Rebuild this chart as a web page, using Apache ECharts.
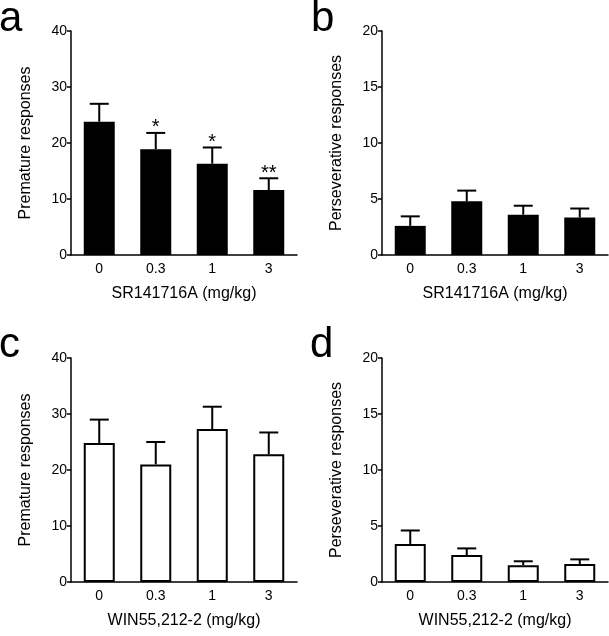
<!DOCTYPE html>
<html>
<head>
<meta charset="utf-8">
<script src="https://cdn.jsdelivr.net/npm/echarts@6/dist/echarts.min.js"></script>
<style>
html,body{margin:0;padding:0;background:#fff;}
#chart{width:609px;height:636px;}
</style>
</head>
<body>
<div id="chart"></div>
<script>
const categories = ['0', '0.3', '1', '3'];
const aMean = [23.8, 18.9, 16.3, 11.6];
const aErr  = [3.2, 2.9, 2.9, 2.1];
const aStars = ['', '*', '*', '**'];
const bMean = [2.6, 4.8, 3.6, 3.35];
const bErr  = [0.85, 0.95, 0.8, 0.8];
const cMean = [24.8, 21.0, 27.3, 22.8];
const cErr  = [4.2, 4.0, 4.0, 3.9];
const dMean = [3.4, 2.4, 1.5, 1.6];
const dErr  = [1.2, 0.6, 0.35, 0.42];
const panelLetters = ['a', 'b', 'c', 'd'];
const xTitles = ['SR141716A (mg/kg)', 'SR141716A (mg/kg)', 'WIN55,212-2 (mg/kg)', 'WIN55,212-2 (mg/kg)'];
const yTitles = ['Premature responses', 'Perseverative responses', 'Premature responses', 'Perseverative responses'];
const yMax = [40, 20, 40, 20];
const yInterval = [10, 5, 10, 5];

const FONT = 'Liberation Sans, Arial, sans-serif';
const panels = [
  {mean: aMean, err: aErr, stars: aStars, filled: true},
  {mean: bMean, err: bErr, stars: null, filled: true},
  {mean: cMean, err: cErr, stars: null, filled: false},
  {mean: dMean, err: dErr, stars: null, filled: false}
];
const gridPos = [
  {left: 71, top: 31, width: 226, height: 224},
  {left: 382, top: 31, width: 226, height: 224},
  {left: 71, top: 358, width: 226, height: 224},
  {left: 382, top: 358, width: 226, height: 224}
];
const letterPos = [[-1, -2], [311, -2], [-1, 324], [310, 324]];

const grids = [], xAxes = [], yAxes = [], series = [], graphics = [];
panels.forEach((p, i) => {
  grids.push(Object.assign({containLabel: false}, gridPos[i]));
  xAxes.push({
    type: 'category', gridIndex: i, data: categories,
    name: xTitles[i], nameLocation: 'middle', nameGap: 31,
    nameTextStyle: {fontFamily: FONT, fontSize: 16, color: '#000'},
    axisLine: {lineStyle: {color: '#000', width: 1.5}},
    axisTick: {show: false},
    axisLabel: {fontFamily: FONT, fontSize: 14, color: '#000', margin: 7}
  });
  yAxes.push({
    type: 'value', gridIndex: i, min: 0, max: yMax[i], interval: yInterval[i],
    name: yTitles[i], nameLocation: 'middle', nameGap: 37,
    nameTextStyle: {fontFamily: FONT, fontSize: 16, color: '#000'},
    axisLine: {show: true, lineStyle: {color: '#000', width: 1.5}},
    axisTick: {show: true, length: 4, lineStyle: {color: '#000', width: 1.5}},
    splitLine: {show: false},
    axisLabel: {fontFamily: FONT, fontSize: 14, color: '#000', margin: 4}
  });
  series.push({
    type: 'bar', xAxisIndex: i, yAxisIndex: i, barWidth: 31,
    data: p.mean,
    itemStyle: p.filled ? {color: '#000'} : {color: '#fff', borderColor: '#000', borderWidth: 2},
    z: 3
  });
  const errData = p.mean.map((m, k) => [k, m, m + p.err[k]]);
  const stars = p.stars;
  series.push({
    type: 'custom', xAxisIndex: i, yAxisIndex: i, data: errData, z: 2,
    renderItem: function (params, api) {
      const idx = api.value(0);
      const base = api.coord([idx, api.value(1)]);
      const top = api.coord([idx, api.value(2)]);
      const children = [
        {type: 'line', shape: {x1: base[0], y1: base[1], x2: top[0], y2: top[1]}, style: {stroke: '#000', lineWidth: 2}},
        {type: 'line', shape: {x1: top[0] - 9.5, y1: top[1], x2: top[0] + 9.5, y2: top[1]}, style: {stroke: '#000', lineWidth: 2}}
      ];
      if (stars && stars[idx]) {
        children.push({type: 'text', x: top[0], y: top[1] + 5, style: {text: stars[idx], fontFamily: FONT, fontSize: 20, fill: '#000', align: 'center', verticalAlign: 'bottom'}});
      }
      return {type: 'group', children: children};
    }
  });
  graphics.push({
    type: 'text', left: letterPos[i][0], top: letterPos[i][1],
    style: {text: panelLetters[i], fontFamily: FONT, fontSize: 42, fill: '#000'}
  });
});

const chart = echarts.init(document.getElementById('chart'), null, {renderer: 'canvas'});
chart.setOption({
  animation: false,
  backgroundColor: '#fff',
  grid: grids, xAxis: xAxes, yAxis: yAxes, series: series,
  graphic: graphics
});
</script>
</body>
</html>
